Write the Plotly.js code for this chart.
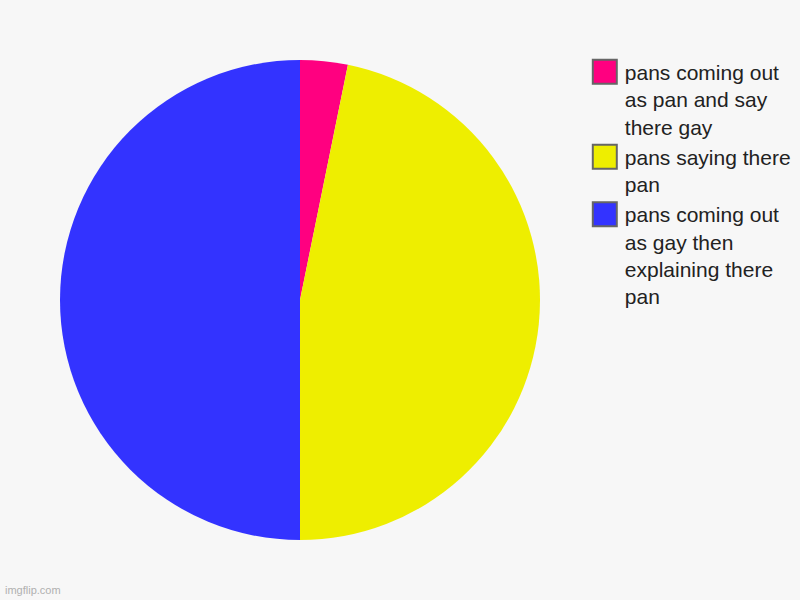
<!DOCTYPE html>
<html>
<head>
<meta charset="utf-8">
<script src="https://cdn.plot.ly/plotly-3.0.1.min.js"></script>
<style>
  html, body { margin: 0; padding: 0; background: #f7f7f7; }
  #chart { width: 800px; height: 600px; }
</style>
</head>
<body>
<div id="chart"></div>
<script>
// Slice data, in clockwise order from 12 o'clock
const labels = [
    'pans coming out<br>as pan and say<br>there gay',
    'pans saying there<br>pan',
    'pans coming out<br>as gay then<br>explaining there<br>pan',
];
const values = [3.2, 46.8, 50];
const sliceColors = ['#ff0080', '#eeee00', '#3333ff'];

const trace = {
    type: 'pie',
    labels: labels,
    values: values,
    sort: false,
    direction: 'clockwise',
    rotation: 0,
    marker: { colors: sliceColors, line: { width: 0 } },
    textinfo: 'none',
    hoverinfo: 'label+percent',
    domain: { x: [0.075, 0.675], y: [0.1, 0.9] },
};

const layout = {
    width: 800,
    height: 600,
    paper_bgcolor: '#f7f7f7',
    plot_bgcolor: '#f7f7f7',
    margin: { l: 0, r: 0, t: 0, b: 0 },
    font: { family: 'Liberation Sans, Arial, sans-serif', color: '#222', size: 21 },
    showlegend: true,
    legend: {
        x: 0.731,
        y: 0.914,
        xanchor: 'left',
        yanchor: 'top',
        valign: 'top',
        bgcolor: 'rgba(0,0,0,0)',
        font: { size: 21, color: '#222' },
    },
    annotations: [{
        text: 'imgflip.com',
        xref: 'paper', yref: 'paper',
        x: 0.004, y: 0.003,
        xanchor: 'left', yanchor: 'bottom',
        showarrow: false,
        font: { size: 11, color: '#b0b0b0' },
    }],
};

Plotly.newPlot('chart', [trace], layout, { displayModeBar: false, staticPlot: true }).then(gd => {
    // bigger, outlined legend swatches like the original
    gd.querySelectorAll('.legendpoints path.legendpie').forEach(p => {
        p.setAttribute('d', 'M12,12H-12V-12H12Z');
        p.style.stroke = '#666';
        p.style.strokeWidth = '2px';
    });
});
</script>
</body>
</html>
